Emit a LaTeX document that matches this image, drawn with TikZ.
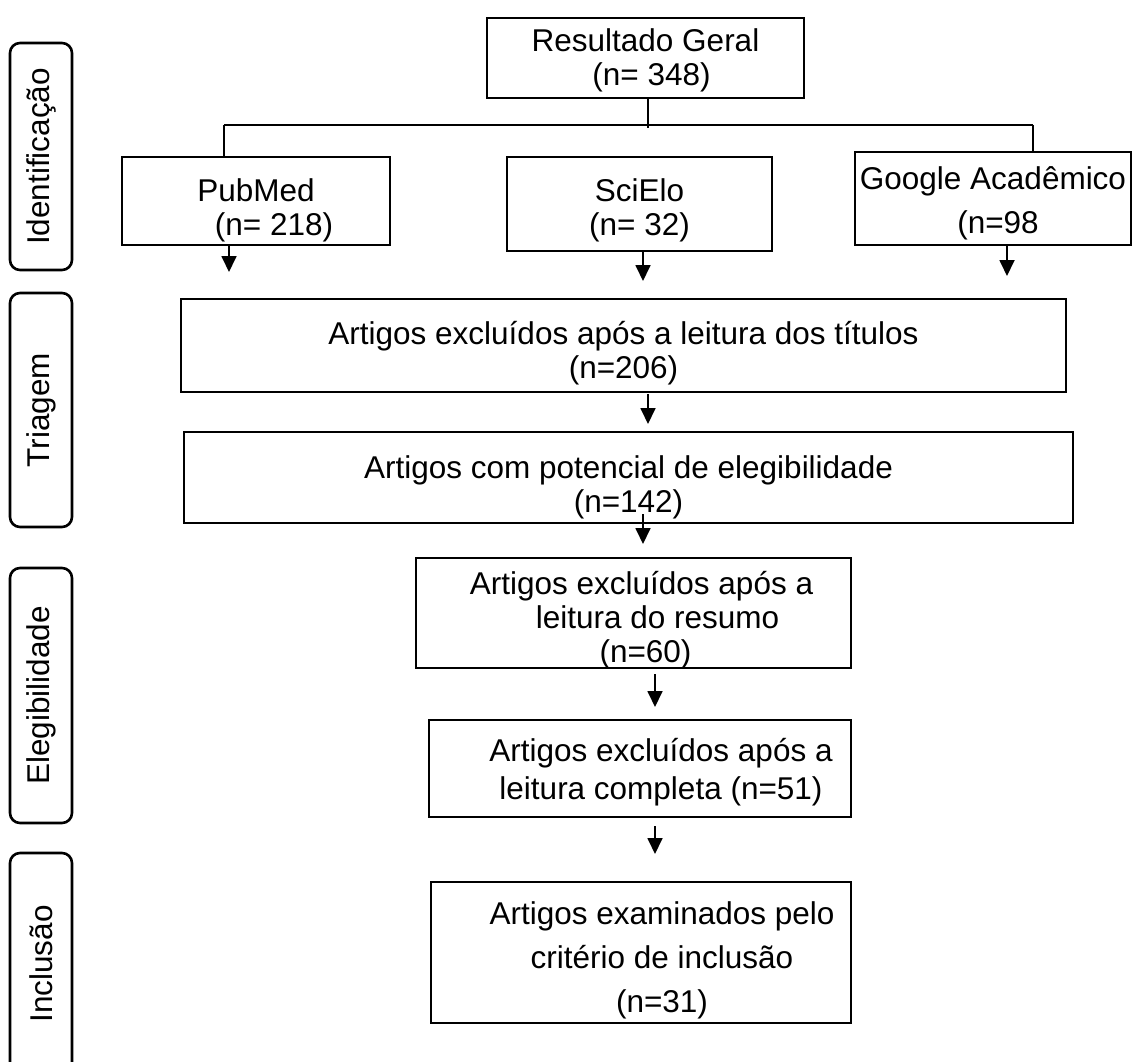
\documentclass[tikz,border=0pt]{standalone}
\usepackage{fontspec}
\setmainfont{Liberation Sans}
\usetikzlibrary{arrows.meta}
\begin{document}
\begin{tikzpicture}[x=1pt,y=-1pt,
  box/.style={draw, line width=2pt, inner sep=0pt},
  tx/.style={align=center, inner sep=0pt, font=\fontsize{31.5}{34}\selectfont},
  wide/.style={font=\fontsize{31.5}{44}\selectfont},
  phase/.style={draw, line width=2.6pt, rounded corners=10pt, inner sep=0pt, minimum width=62pt, font=\fontsize{31.5}{34}\selectfont},
  conn/.style={line width=1.8pt},
  arr/.style={line width=1.8pt, -{Triangle[width=15pt,length=16pt]}},
]
\clip (0,0) rectangle (1133,1062);

% phase labels
\node[phase, minimum height=227pt] (ident) at (41,156.5) {\rotatebox{90}{Identificação}};
\node[phase, minimum height=234pt] (triag) at (41,410) {\rotatebox{90}{Triagem}};
\node[phase, minimum height=255pt] (eleg) at (41,695.5) {\rotatebox{90}{Elegibilidade}};
\node[phase, minimum height=222pt] (incl) at (41,964) {\rotatebox{90}{Inclusão}};

% boxes
\node[box, minimum width=317pt, minimum height=80pt,
  label={[tx, yshift=-2pt]center:{Resultado Geral\\\hspace{12pt}(n= 348)}}] (res) at (645.5,58) {};
\node[box, minimum width=268pt, minimum height=88pt,
  label={[tx, yshift=-9pt]center:{PubMed\\\hspace{36pt}(n= 218)}}] (pub) at (256,201) {};
\node[box, minimum width=265pt, minimum height=94pt,
  label={[tx, yshift=-6pt]center:{SciElo\\(n= 32)}}] (sci) at (639.5,204) {};
\node[box, minimum width=276pt, minimum height=93pt,
  label={[tx, wide, yshift=-5pt]center:{Google Acadêmico\\\hspace{10pt}(n=98}}] (goo) at (993,198.5) {};
\node[box, minimum width=885pt, minimum height=93pt,
  label={[tx, yshift=-8pt]center:{Artigos excluídos após a leitura dos títulos\\(n=206)}}] (t1) at (623.5,345.5) {};
\node[box, minimum width=889pt, minimum height=91pt,
  label={[tx, yshift=-10pt]center:{Artigos com potencial de elegibilidade\\(n=142)}}] (t2) at (628.5,477.5) {};
\node[box, minimum width=435pt, minimum height=110pt,
  label={[tx, yshift=-7pt]center:{\hspace{16pt}Artigos excluídos após a\\\hspace{48pt}leitura do resumo\\\hspace{24pt}(n=60)}}] (e1) at (633.5,613) {};
\node[box, minimum width=422pt, minimum height=97pt,
  label={[tx, font=\fontsize{31.5}{38}\selectfont, yshift=-4pt]center:{\hspace{42pt}Artigos excluídos após a\\\hspace{42pt}leitura completa (n=51)}}] (e2) at (640,768.5) {};
\node[box, minimum width=420pt, minimum height=141pt,
  label={[tx, wide, yshift=-8pt]center:{\hspace{42pt}Artigos examinados pelo\\\hspace{42pt}critério de inclusão\\\hspace{42pt}(n=31)}}] (inc) at (641,952.5) {};

% top connectors
\coordinate (hl) at (224,125);
\coordinate (hr) at (1033,125);
\coordinate (jn) at (648,128);
\draw[conn] (res.south -| jn) -- (jn);
\draw[conn] (hl) -- (hr);
\draw[conn] (hl) -- (hl |- pub.north);
\draw[conn] (hr) -- (hr |- goo.north);

% arrows
\draw[arr, shorten >=26pt] ([xshift=-27pt]pub.south) -- ([xshift=-27pt]pub.south |- t1.north);
\draw[arr, shorten >=17pt] ([xshift=3.5pt]sci.south) -- ([xshift=3.5pt]sci.south |- t1.north);
\draw[arr, shorten >=22pt] ([xshift=14pt]goo.south) -- ([xshift=14pt]goo.south |- t1.north);
\draw[arr, shorten <=1pt, shorten >=7pt] ([xshift=24.5pt]t1.south) -- ([xshift=24.5pt]t1.south |- t2.north);
\draw[arr, shorten <=-10pt, shorten >=13pt] ([xshift=14.5pt]t2.south) -- ([xshift=14.5pt]t2.south |- e1.north);
\draw[arr, shorten <=5pt, shorten >=12pt] ([xshift=21.5pt]e1.south) -- ([xshift=21.5pt]e1.south |- e2.north);
\draw[arr, shorten <=8pt, shorten >=27pt] ([xshift=15pt]e2.south) -- ([xshift=15pt]e2.south |- inc.north);
\end{tikzpicture}
\end{document}
